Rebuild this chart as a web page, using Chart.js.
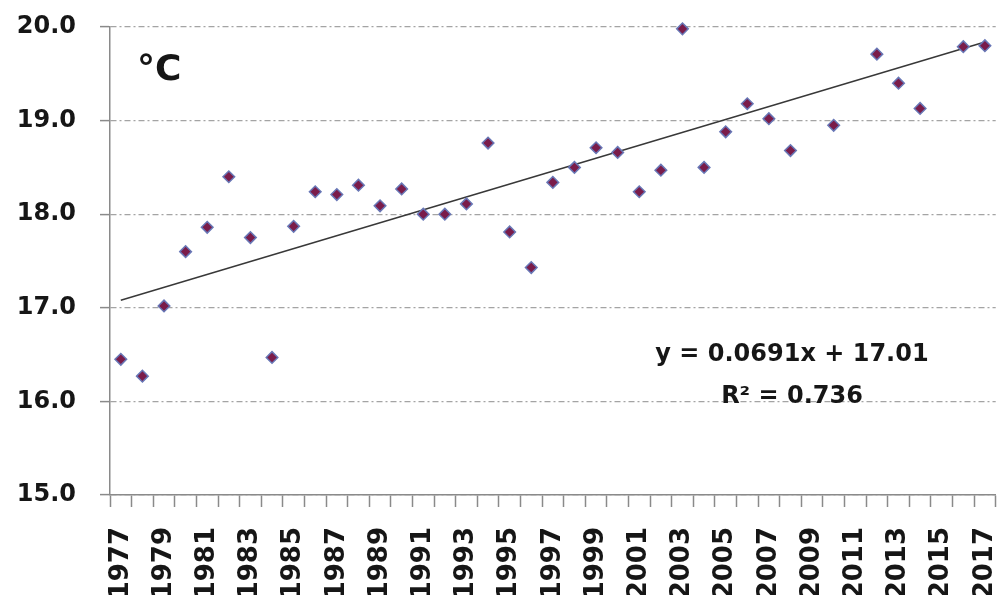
<!DOCTYPE html>
<html>
<head>
<meta charset="utf-8">
<script src="https://cdn.jsdelivr.net/npm/chart.js@4/dist/chart.umd.min.js"></script>
<style>
  html, body { margin: 0; padding: 0; background: #fff; overflow: hidden; }
  #wrap { position: relative; width: 1003px; height: 595px; }
</style>
</head>
<body>
<div id="wrap"><canvas id="chart"></canvas></div>
<script>
// ============================================================
// Data
// ============================================================

const YEARS = [
  '1977', '1978', '1979', '1980', '1981', '1982', '1983', '1984', '1985', '1986',
  '1987', '1988', '1989', '1990', '1991', '1992', '1993', '1994', '1995', '1996',
  '1997', '1998', '1999', '2000', '2001', '2002', '2003', '2004', '2005', '2006',
  '2007', '2008', '2009', '2010', '2011', '2012', '2013', '2014', '2015', '2016',
  '2017',
];

// mean temperature per year (°C), null where the source has no point
const TEMPS = [
  16.45, 16.27, 17.02, 17.60, 17.86, 18.40, 17.75, 16.47, 17.87, 18.24,
  18.21, 18.31, 18.09, 18.27, 18.00, 18.00, 18.11, 18.76, 17.81, 17.43,
  18.34, 18.50, 18.71, 18.66, 18.24, 18.47, 19.98, 18.50, 18.88, 19.18,
  19.02, 18.68, null, 18.95, null, 19.71, 19.40, 19.13, null, 19.79,
  19.80,
];

// linear trend, read at both ends of the fitted line
const TREND_YEARS = ['1977', '2017'];
const TREND_VALUES = [17.08, 19.84];

const Y_TICKS = [15, 16, 17, 18, 19, 20];

const UNIT_LABEL = '°C';
const EQUATION = 'y = 0.0691x + 17.01';
const R_SQUARED = 'R² = 0.736';

// ============================================================
// Styles
// ============================================================

const FONT = '"DejaVu Sans", sans-serif';
const TEXT_COLOR = '#161616';
const AXIS_COLOR = '#8a8a8a';
const GRID_COLOR = '#a4a4a4';

// ============================================================
// Annotation plugin (unit + regression text)
// ============================================================

const annotationPlugin = {
  id: 'annotations',
  afterDraw(chart) {
    const { ctx, chartArea, scales: { x, y } } = chart;
    ctx.save();
    ctx.fillStyle = TEXT_COLOR;

    ctx.font = `bold 36px ${FONT}`;
    ctx.textAlign = 'left';
    ctx.textBaseline = 'alphabetic';
    ctx.fillText(UNIT_LABEL, chartArea.left + 27, y.getPixelForValue(19.43));

    ctx.font = `bold 24px ${FONT}`;
    ctx.textAlign = 'center';
    ctx.textBaseline = 'middle';
    const cx = x.getPixelForValue(31.07);
    ctx.fillText(EQUATION, cx, y.getPixelForValue(16.5));
    ctx.fillText(R_SQUARED, cx, y.getPixelForValue(16.05));
    ctx.restore();
  },
};

// ============================================================
// Chart
// ============================================================

function buildChart() {
  const ctx = document.getElementById('chart');

  new Chart(ctx, {
    type: 'line',
    data: {
      labels: YEARS,
      datasets: [
        {
          label: 'temperature',
          data: TEMPS,
          showLine: false,
          pointStyle: 'rectRot',
          pointRadius: 5.8,
          pointBorderWidth: 1.5,
          pointBackgroundColor: '#7a1c4a',
          pointBorderColor: '#6877b6',
          clip: false,
          order: 1,
        },
        {
          label: 'trend',
          data: TREND_YEARS.map((yr, i) => ({ x: yr, y: TREND_VALUES[i] })),
          borderColor: '#383838',
          borderWidth: 1.5,
          pointRadius: 0,
          spanGaps: true,
          order: 2,
        },
      ],
    },
    options: {
      responsive: true,
      maintainAspectRatio: false,
      animation: false,
      events: [],
      layout: { padding: { top: 27, right: 1, left: 0, bottom: 0 } },
      plugins: {
        legend: { display: false },
        tooltip: { enabled: false },
      },
      scales: {
        x: {
          type: 'category',
          offset: true,
          grid: {
            display: true,
            offset: true,
            drawOnChartArea: false,
            drawTicks: true,
            tickLength: 12,
            tickColor: AXIS_COLOR,
            tickWidth: 1.5,
          },
          border: { display: true, color: AXIS_COLOR, width: 1.5 },
          ticks: {
            autoSkip: false,
            minRotation: 90,
            maxRotation: 90,
            padding: 20,
            color: TEXT_COLOR,
            font: { family: FONT, size: 26, weight: 'bold' },
            callback: (val, idx) => (idx % 2 === 0 ? YEARS[idx] : ''),
          },
          afterFit(scale) {
            scale.height = 100;
            scale.paddingLeft = 0;
            scale.paddingRight = 0;
          },
        },
        y: {
          type: 'linear',
          min: Y_TICKS[0],
          max: Y_TICKS[Y_TICKS.length - 1],
          afterBuildTicks(scale) {
            scale.ticks = Y_TICKS.map(v => ({ value: v }));
          },
          grid: {
            color: GRID_COLOR,
            lineWidth: 1.2,
            tickLength: 10,
            tickColor: AXIS_COLOR,
            tickWidth: 1.5,
          },
          border: {
            display: true,
            color: AXIS_COLOR,
            width: 1.5,
            dash: [6, 3, 2, 3],
          },
          ticks: {
            padding: 24,
            color: TEXT_COLOR,
            font: { family: FONT, size: 24, weight: 'bold' },
            callback: v => Number(v).toFixed(1),
          },
          afterFit(scale) {
            scale.width = 110;
            scale.paddingTop = 0;
            scale.paddingBottom = 0;
          },
        },
      },
    },
    plugins: [annotationPlugin],
  });
}

document.addEventListener('DOMContentLoaded', buildChart);
</script>
</body>
</html>
